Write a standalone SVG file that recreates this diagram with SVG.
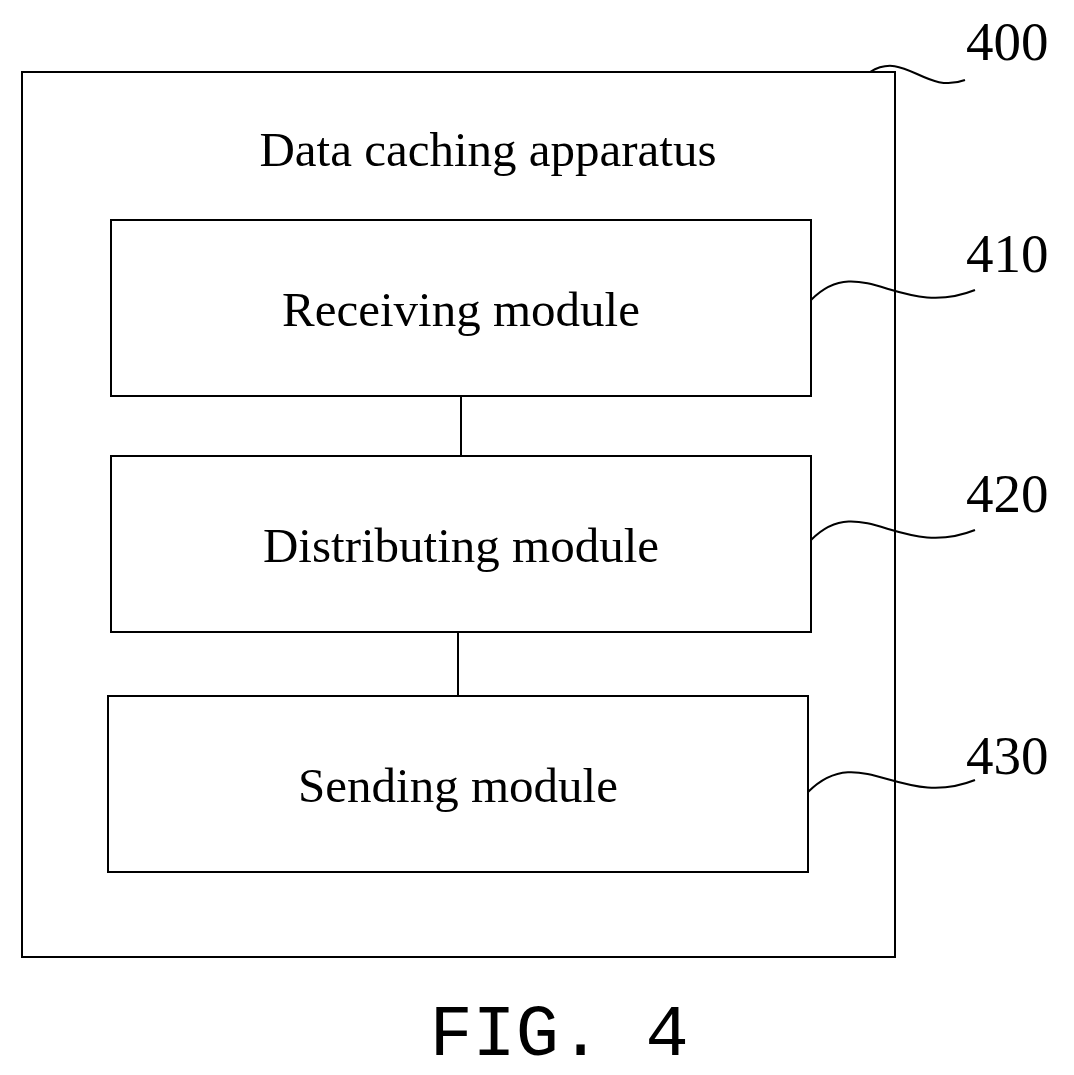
<svg xmlns="http://www.w3.org/2000/svg" width="1074" height="1075" viewBox="0 0 1074 1075">
<style>
.b{fill:none;stroke:#000;stroke-width:2}
.t{font-family:"Liberation Serif",serif;font-size:49px;text-anchor:middle}
.n{font-family:"Liberation Serif",serif;font-size:55px}
</style>
<rect width="1074" height="1075" fill="#fff"/>
<g id="apparatus"><rect class="b" x="22" y="72" width="873" height="885"/><text class="t" x="488" y="166">Data caching apparatus</text><text class="n" x="966" y="60">400</text></g>
<g id="m410"><rect class="b" x="111" y="220" width="700" height="176"/><text class="t" x="461" y="326">Receiving module</text><text class="n" x="966" y="272">410</text></g>
<g id="m420"><rect class="b" x="111" y="456" width="700" height="176"/><text class="t" x="461" y="562">Distributing module</text><text class="n" x="966" y="512">420</text></g>
<g id="m430"><rect class="b" x="108" y="696" width="700" height="176"/><text class="t" x="458" y="802">Sending module</text><text class="n" x="966" y="774">430</text></g>
<g id="connectors" class="b">
<path d="M461 396V456M458 632V696"/>
<path d="M870 72C905 50 925 95 965 80"/>
<path d="M811 300C860 250 900 320 975 290"/>
<path d="M811 540C860 490 900 560 975 530"/>
<path d="M808 792C860 740 900 810 975 780"/>
</g>
<text x="559" y="1055" style="font-family:'Liberation Mono',monospace;font-size:72px;text-anchor:middle;font-weight:300">FIG. 4</text>
</svg>
